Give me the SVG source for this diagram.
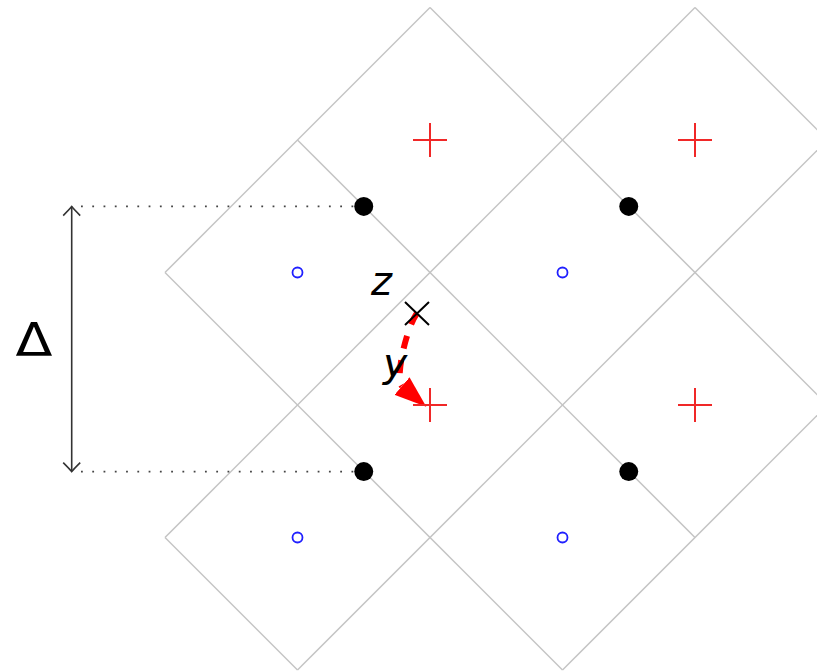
<svg xmlns="http://www.w3.org/2000/svg" width="817" height="671" viewBox="0 0 817 671">
<style>
.grid line{stroke:#c4c4c4;stroke-width:1.5;fill:none}
.dot{fill:#000}
.site{fill:none;stroke:#2020ff;stroke-width:1.8}
.plus{stroke:#f02828;stroke-width:2;fill:none}
.dotted{stroke:#444;stroke-width:1.8;stroke-dasharray:1.8 9.47;fill:none}
.label{font-family:"DejaVu Sans","Liberation Sans",sans-serif;fill:#000}
</style>
<defs>
<marker id="chev" markerUnits="userSpaceOnUse" viewBox="-11 -10 13 20" markerWidth="13" markerHeight="20" refX="0" refY="0" orient="auto-start-reverse">
<path d="M-9,-8.5 Q-2.5,-2 0,0 Q-2.5,2 -9,8.5" fill="none" stroke="#333" stroke-width="1.6"/>
</marker>
<marker id="redhead" markerUnits="userSpaceOnUse" viewBox="0 -12 33 24" markerWidth="33" markerHeight="24" refX="0" refY="0" orient="auto">
<path d="M0,-11.5 L32,0 L0,11.5 z" fill="#ff0000"/>
</marker>
</defs>
<rect width="817" height="671" fill="#fff"/>
<g id="grid" class="grid">
<line x1="430" y1="7.5" x2="827.5" y2="405"/>
<line x1="297.5" y1="140" x2="695" y2="537.5"/>
<line x1="695" y1="7.5" x2="827.5" y2="140"/>
<line x1="165" y1="272.5" x2="562.5" y2="670"/>
<line x1="165" y1="537.5" x2="297.5" y2="670"/>
<line x1="430" y1="7.5" x2="165" y2="272.5"/>
<line x1="695" y1="7.5" x2="165" y2="537.5"/>
<line x1="827.5" y1="140" x2="297.5" y2="670"/>
<line x1="827.5" y1="405" x2="562.5" y2="670"/>
</g>
<g id="connectors">
<line class="dotted" x1="81" y1="206.4" x2="355" y2="206.4"/>
<line class="dotted" x1="81" y1="471.6" x2="355" y2="471.6"/>
<path id="delta-arrow" d="M71.7,206.6 L71.7,471.6" stroke="#333" stroke-width="1.6" fill="none" marker-start="url(#chev)" marker-end="url(#chev)"/>
<path id="move-arrow" d="M417,313 C405,331 395,380 402,386" stroke="#ff0000" stroke-width="6" stroke-dasharray="13 12" fill="none" marker-end="url(#redhead)"/>
</g>
<g id="sites">
<g id="site1"><circle class="site" cx="297.5" cy="272.5" r="5"/></g>
<g id="site2"><circle class="site" cx="562.5" cy="272.5" r="5"/></g>
<g id="site3"><circle class="site" cx="297.5" cy="537.5" r="5"/></g>
<g id="site4"><circle class="site" cx="562.5" cy="537.5" r="5"/></g>
</g>
<g id="pluses">
<g id="plus1"><path class="plus" d="M413,140 H447 M430,123 V157"/></g>
<g id="plus2"><path class="plus" d="M678,140 H712 M695,123 V157"/></g>
<g id="plus3"><path class="plus" d="M413,405 H447 M430,388 V422"/></g>
<g id="plus4"><path class="plus" d="M678,405 H712 M695,388 V422"/></g>
</g>
<g id="dots">
<g id="dot1"><circle class="dot" cx="363.75" cy="206.4" r="9.5"/></g>
<g id="dot2"><circle class="dot" cx="628.75" cy="206.4" r="9.5"/></g>
<g id="dot3"><circle class="dot" cx="363.75" cy="471.6" r="9.5"/></g>
<g id="dot4"><circle class="dot" cx="628.75" cy="471.6" r="9.5"/></g>
</g>
<g id="cross"><path d="M405,302 L429,325 M429,302 L405,325" stroke="#000" stroke-width="2" fill="none"/></g>
<g id="labels">
<text class="label" transform="translate(34,356) scale(1.15,1)" x="0" y="0" font-size="47" text-anchor="middle">Δ</text>
<text class="label" x="371" y="295" font-size="40" font-style="italic">z</text>
<text class="label" x="383" y="377" font-size="41" font-style="italic">y</text>
</g>
</svg>
